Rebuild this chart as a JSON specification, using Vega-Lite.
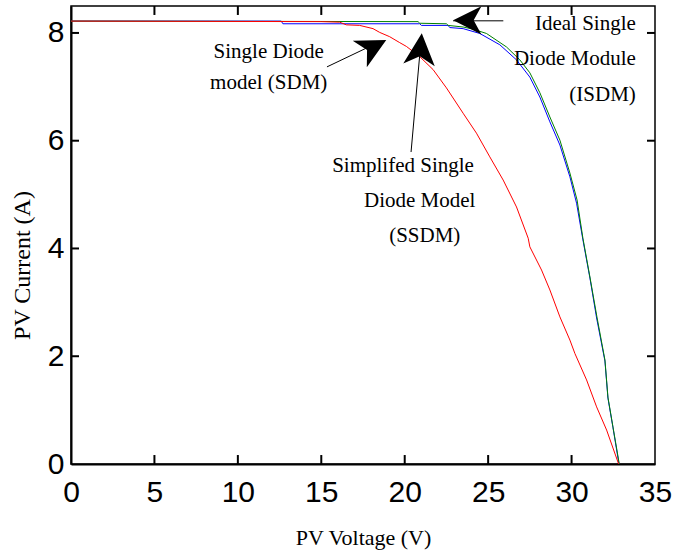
{
"$schema":"https://vega.github.io/schema/vega-lite/v6.json",
"width":584,"height":458,"autosize":"none",
"padding":{"left":71,"top":6,"right":30,"bottom":87},
"background":"white",
"config":{"view":{"stroke":"black","strokeWidth":1.5},"axis":{"grid":false,"domainColor":"black","tickColor":"black","labelColor":"black","titleColor":"black","labelFont":"Liberation Sans","labelFontSize":30,"titleFont":"Liberation Serif","titleFontSize":22,"titleFontWeight":"normal"}},
"datasets":{
"curves":[
{"m":"SSDM","v":0,"i":8.22},{"m":"SSDM","v":12.6,"i":8.22},{"m":"SSDM","v":12.7,"i":8.17},{"m":"SSDM","v":20.9,"i":8.17},{"m":"SSDM","v":21.0,"i":8.14},{"m":"SSDM","v":22.6,"i":8.14},{"m":"SSDM","v":22.7,"i":8.10},{"m":"SSDM","v":23.5,"i":8.08},{"m":"SSDM","v":24.5,"i":7.99},{"m":"SSDM","v":25.7,"i":7.78},{"m":"SSDM","v":26.7,"i":7.50},{"m":"SSDM","v":27.5,"i":7.18},{"m":"SSDM","v":28.1,"i":6.81},{"m":"SSDM","v":28.7,"i":6.35},{"m":"SSDM","v":29.3,"i":5.92},{"m":"SSDM","v":29.9,"i":5.33},{"m":"SSDM","v":30.3,"i":4.84},{"m":"SSDM","v":30.68,"i":4.16},{"m":"SSDM","v":31.1,"i":3.45},{"m":"SSDM","v":31.5,"i":2.71},{"m":"SSDM","v":32.0,"i":1.91},{"m":"SSDM","v":32.18,"i":1.22},{"m":"SSDM","v":32.48,"i":0.68},{"m":"SSDM","v":32.84,"i":0},
{"m":"ISDM","v":0,"i":8.22},{"m":"ISDM","v":20.8,"i":8.21},{"m":"ISDM","v":20.9,"i":8.18},{"m":"ISDM","v":22.5,"i":8.17},{"m":"ISDM","v":22.6,"i":8.14},{"m":"ISDM","v":23.5,"i":8.11},{"m":"ISDM","v":24.1,"i":8.07},{"m":"ISDM","v":24.9,"i":7.99},{"m":"ISDM","v":26.1,"i":7.74},{"m":"ISDM","v":26.9,"i":7.50},{"m":"ISDM","v":27.5,"i":7.26},{"m":"ISDM","v":28.1,"i":6.89},{"m":"ISDM","v":28.7,"i":6.44},{"m":"ISDM","v":29.3,"i":6.01},{"m":"ISDM","v":29.9,"i":5.40},{"m":"ISDM","v":30.33,"i":4.90},{"m":"ISDM","v":30.68,"i":4.19},{"m":"ISDM","v":31.1,"i":3.47},{"m":"ISDM","v":31.52,"i":2.73},{"m":"ISDM","v":32.0,"i":1.93},{"m":"ISDM","v":32.18,"i":1.24},{"m":"ISDM","v":32.48,"i":0.69},{"m":"ISDM","v":32.86,"i":0},
{"m":"SDM","v":0,"i":8.22},{"m":"SDM","v":15.0,"i":8.21},{"m":"SDM","v":16.1,"i":8.20},{"m":"SDM","v":16.5,"i":8.15},{"m":"SDM","v":17.3,"i":8.14},{"m":"SDM","v":18.1,"i":8.08},{"m":"SDM","v":18.5,"i":8.01},{"m":"SDM","v":19.1,"i":7.93},{"m":"SDM","v":19.7,"i":7.82},{"m":"SDM","v":20.1,"i":7.75},{"m":"SDM","v":20.9,"i":7.56},{"m":"SDM","v":21.7,"i":7.32},{"m":"SDM","v":22.5,"i":6.98},{"m":"SDM","v":23.5,"i":6.51},{"m":"SDM","v":24.3,"i":6.14},{"m":"SDM","v":25.1,"i":5.70},{"m":"SDM","v":25.9,"i":5.27},{"m":"SDM","v":26.7,"i":4.77},{"m":"SDM","v":27.4,"i":4.19},{"m":"SDM","v":27.5,"i":4.03},{"m":"SDM","v":28.2,"i":3.60},{"m":"SDM","v":28.7,"i":3.23},{"m":"SDM","v":29.3,"i":2.73},{"m":"SDM","v":29.9,"i":2.30},{"m":"SDM","v":30.2,"i":2.05},{"m":"SDM","v":30.9,"i":1.56},{"m":"SDM","v":31.5,"i":1.06},{"m":"SDM","v":32.1,"i":0.63},{"m":"SDM","v":32.82,"i":0}
],
"xt":[{"v":5},{"v":10},{"v":15},{"v":20},{"v":25},{"v":30}],
"yt":[{"i":2},{"i":4},{"i":6},{"i":8}],
"arrows":[
{"v1":15.34,"i1":7.37,"v2":18.05,"i2":7.77},
{"v1":20.38,"i1":5.79,"v2":20.94,"i2":7.73},
{"v1":22.9,"i1":8.225,"v2":25.91,"i2":8.225}
],
"heads":[
{"v":18.1,"i":7.74,"ang":62,"sz":900},
{"v":20.94,"i":7.70,"ang":5,"sz":1000},
{"v":23.75,"i":8.235,"ang":270,"sz":800}
],
"labels":[
{"t":"Single Diode","v":11.85,"i":7.64,"al":"c"},
{"t":"model (SDM)","v":11.85,"i":7.07,"al":"c"},
{"t":"Simplifed Single","v":19.9,"i":5.53,"al":"c"},
{"t":"Diode Model","v":20.9,"i":4.88,"al":"c"},
{"t":"(SSDM)","v":21.2,"i":4.23,"al":"c"},
{"t":"Ideal Single","v":33.85,"i":8.17,"al":"r"},
{"t":"Diode Module","v":33.85,"i":7.52,"al":"r"},
{"t":"(ISDM)","v":33.85,"i":6.85,"al":"r"}
]
},
"layer":[
{"data":{"name":"curves"},"transform":[{"filter":"datum.m==='SSDM'"}],
 "mark":{"type":"line","color":"#0000ff","strokeWidth":1},
 "encoding":{
  "x":{"field":"v","type":"quantitative","scale":{"domain":[0,35],"nice":false,"zero":false},
   "axis":{"orient":"bottom","values":[0,5,10,15,20,25,30,35],"ticks":false,"domainWidth":2,"labelPadding":13,"labelFlush":false,"labelOverlap":false,"title":"PV Voltage (V)","titleBaseline":"middle","titleY":73}},
  "y":{"field":"i","type":"quantitative","scale":{"domain":[0,8.5],"nice":false,"zero":false},
   "axis":{"orient":"left","values":[0,2,4,6,8],"ticks":false,"domainWidth":2,"labelPadding":7,"labelFlush":false,"labelOverlap":false,"title":"PV Current (A)","titleFontSize":24,"titleAngle":-90,"titleBaseline":"middle","titleAlign":"center","titleX":-49,"titleY":259}}
 }},
{"data":{"name":"curves"},"transform":[{"filter":"datum.m==='ISDM'"}],
 "mark":{"type":"line","color":"#008000","strokeWidth":1},
 "encoding":{"x":{"field":"v","type":"quantitative"},"y":{"field":"i","type":"quantitative"}}},
{"data":{"name":"curves"},"transform":[{"filter":"datum.m==='SDM'"}],
 "mark":{"type":"line","color":"#ff0000","strokeWidth":1},
 "encoding":{"x":{"field":"v","type":"quantitative"},"y":{"field":"i","type":"quantitative"}}},
{"data":{"name":"xt"},
 "mark":{"type":"tick","orient":"vertical","color":"black","thickness":2,"size":9,"opacity":1},
 "encoding":{"x":{"field":"v","type":"quantitative"},"y":{"datum":0.083}}},
{"data":{"name":"xt"},
 "mark":{"type":"tick","orient":"vertical","color":"black","thickness":2,"size":9,"opacity":1},
 "encoding":{"x":{"field":"v","type":"quantitative"},"y":{"datum":8.417}}},
{"data":{"name":"yt"},
 "mark":{"type":"tick","orient":"horizontal","color":"black","thickness":2,"size":8,"opacity":1},
 "encoding":{"y":{"field":"i","type":"quantitative"},"x":{"datum":0.24}}},
{"data":{"name":"yt"},
 "mark":{"type":"tick","orient":"horizontal","color":"black","thickness":2,"size":8,"opacity":1},
 "encoding":{"y":{"field":"i","type":"quantitative"},"x":{"datum":34.76}}},
{"data":{"name":"arrows"},
 "mark":{"type":"rule","color":"black","strokeWidth":1},
 "encoding":{"x":{"field":"v1","type":"quantitative"},"y":{"field":"i1","type":"quantitative"},"x2":{"field":"v2"},"y2":{"field":"i2"}}},
{"data":{"name":"heads"},
 "mark":{"type":"point","shape":"M0,-1L1,1L0,0.45L-1,1Z","filled":true,"color":"black","opacity":1,"strokeWidth":0},
 "encoding":{"x":{"field":"v","type":"quantitative"},"y":{"field":"i","type":"quantitative"},"angle":{"field":"ang","type":"quantitative","scale":null},"size":{"field":"sz","type":"quantitative","scale":null}}},
{"data":{"name":"labels"},"transform":[{"filter":"datum.al==='c'"}],
 "mark":{"type":"text","font":"Liberation Serif","fontSize":21,"align":"center","baseline":"middle","color":"black"},
 "encoding":{"x":{"field":"v","type":"quantitative"},"y":{"field":"i","type":"quantitative"},"text":{"field":"t"}}},
{"data":{"name":"labels"},"transform":[{"filter":"datum.al==='r'"}],
 "mark":{"type":"text","font":"Liberation Serif","fontSize":21,"align":"right","baseline":"middle","color":"black"},
 "encoding":{"x":{"field":"v","type":"quantitative"},"y":{"field":"i","type":"quantitative"},"text":{"field":"t"}}}
]
}
